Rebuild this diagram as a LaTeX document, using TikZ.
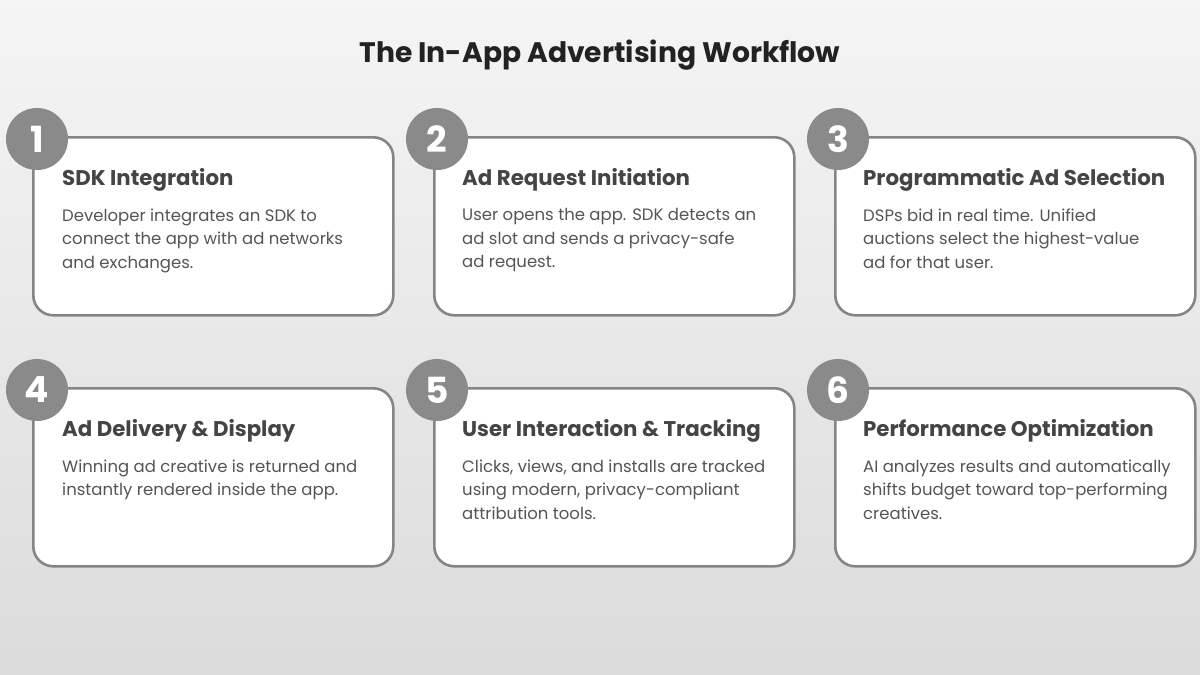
\documentclass[tikz,border=0pt]{standalone}
\usepackage{fontspec}
\setmainfont{Poppins}
\usetikzlibrary{positioning}
\definecolor{rim}{HTML}{858585}
\definecolor{badgegray}{HTML}{8A8A8A}
\definecolor{headgray}{HTML}{444444}
\definecolor{bodygray}{HTML}{555555}
\definecolor{titlegray}{HTML}{222222}
\tikzstyle{card} = [draw=rim, line width=2.6pt, fill=white, rounded corners=20pt, minimum width=360pt, minimum height=178pt, anchor=north west, inner sep=0pt]
\tikzstyle{badge} = [circle, fill=badgegray, minimum size=62pt, inner sep=0pt, text=white, font=\bfseries\fontsize{36}{36}\selectfont]
\tikzstyle{head} = [anchor=base west, inner sep=0pt, text=headgray, font=\bfseries\fontsize{21.3}{25}\selectfont]
\tikzstyle{body} = [anchor=north west, inner sep=0pt, text=bodygray, align=left, font=\fontsize{16.5}{23.5}\selectfont, execute at begin node=\strut]

\begin{document}
\begin{tikzpicture}[x=1pt, y=-1pt]
    \fill[top color=white!96!black, bottom color=white!86!black] (0,0) rectangle (1200,675);
    \useasboundingbox (0,0) rectangle (1200,675);
    \node[anchor=base, text=titlegray, font=\bfseries\fontsize{28.2}{32}\selectfont] (title) at (600,62) {The In-App Advertising Workflow};
    % top row
    \node[card] (c1) at (32,136) {};
    \node[card] (c2) at (433,136) {};
    \node[card] (c3) at (834,136) {};
    \node[badge] (n1) at (37,139) {1};
    \node[badge] (n2) at (437,139) {2};
    \node[badge] (n3) at (838,139) {3};
    \node[head] (h1) at (62,185) {SDK Integration};
    \node[head] (h2) at (462,185) {Ad Request Initiation};
    \node[head] (h3) at (863,185) {Programmatic Ad Selection};
    \node[body] (b1) at (62,208.5) {Developer integrates an SDK to\\connect the app with ad networks\\and exchanges.};
    \node[body] (b2) at (462,208.5) {User opens the app. SDK detects an\\ad slot and sends a privacy-safe\\ad request.};
    \node[body] (b3) at (863,208.5) {DSPs bid in real time. Unified\\auctions select the highest-value\\ad for that user.};
    % bottom row
    \node[card] (c4) at (32,387) {};
    \node[card] (c5) at (433,387) {};
    \node[card] (c6) at (834,387) {};
    \node[badge] (n4) at (37,390) {4};
    \node[badge] (n5) at (437,390) {5};
    \node[badge] (n6) at (838,390) {6};
    \node[head] (h4) at (62,436) {Ad Delivery \& Display};
    \node[head] (h5) at (462,436) {User Interaction \& Tracking};
    \node[head] (h6) at (863,436) {Performance Optimization};
    \node[body] (b4) at (62,459.5) {Winning ad creative is returned and\\instantly rendered inside the app.};
    \node[body] (b5) at (462,459.5) {Clicks, views, and installs are tracked\\using modern, privacy-compliant\\attribution tools.};
    \node[body] (b6) at (863,459.5) {AI analyzes results and automatically\\shifts budget toward top-performing\\creatives.};
\end{tikzpicture}
\end{document}
